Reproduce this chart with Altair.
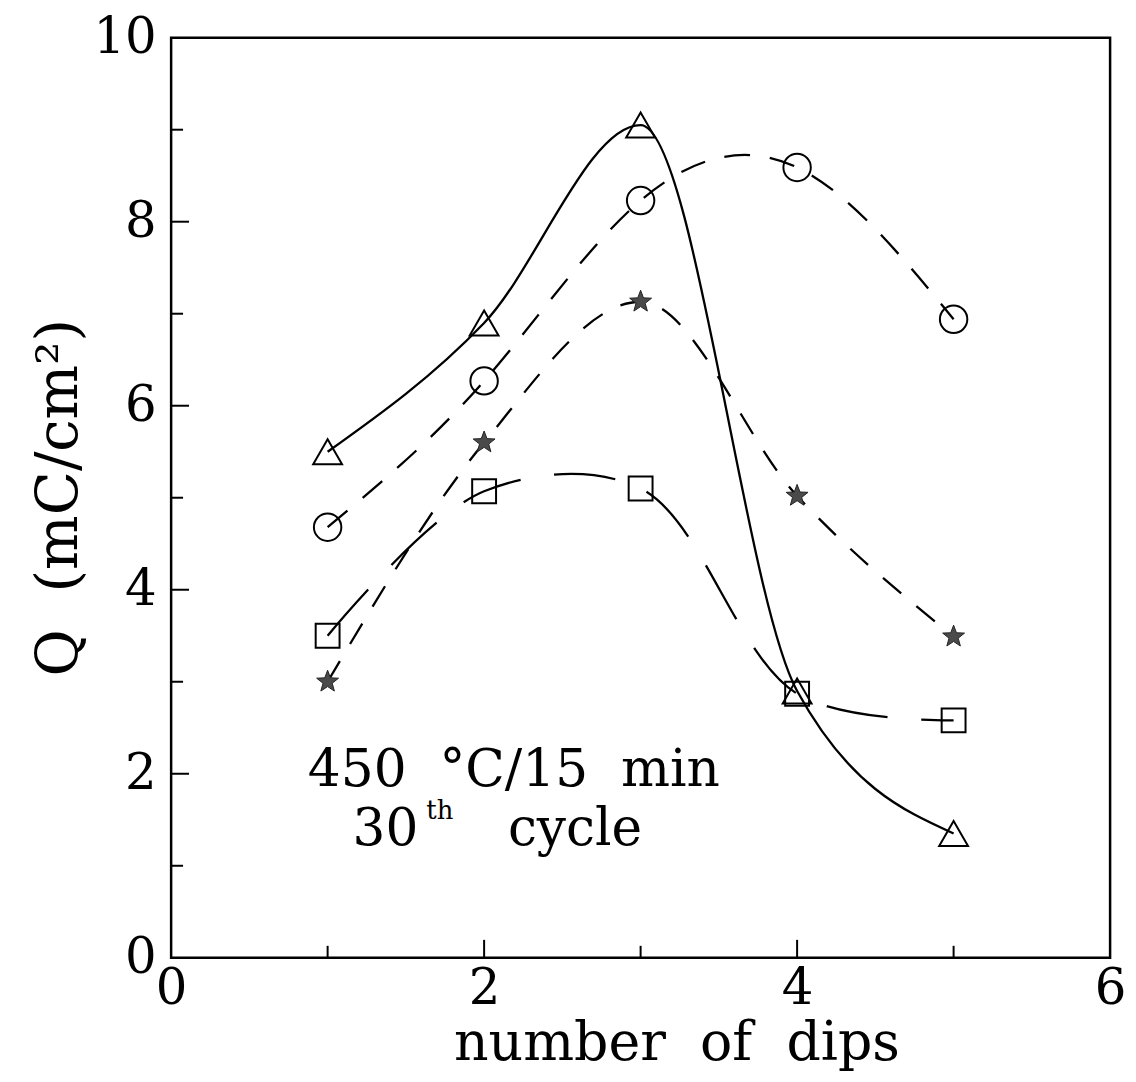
import altair as alt
import pandas as pd

# ---- data ----
x_dips = [1, 2, 3, 4, 5]
q_triangle = [5.5, 6.9, 9.05, 2.9, 1.35]
q_circle = [4.68, 6.27, 8.23, 8.59, 6.94]
q_star = [3.0, 5.6, 7.13, 5.02, 3.49]
q_square = [3.5, 5.07, 5.1, 2.87, 2.58]

x_label_values = [0, 2, 4, 6]
y_label_values = [0, 2, 4, 6, 8, 10]
x_major_ticks = [2, 4]
x_minor_ticks = [1, 3, 5]
y_major_ticks = [2, 4, 6, 8]
y_minor_ticks = [1, 3, 5, 7, 9]

note_line1 = "450\u00a0 °C/15\u00a0 min"
note_num = "30"
note_sup = "th"
note_word = "cycle"

# ---- layout / style ----
W, H = 944, 925
FONT = "DejaVu Serif"
STAR = ("M0,-1 L0.247,-0.34 L0.951,-0.309 L0.399,0.13 L0.588,0.809 "
        "L0,0.42 L-0.588,0.809 L-0.399,0.13 L-0.951,-0.309 L-0.247,-0.34 Z")

xs = alt.Scale(domain=[0, 6], nice=False, zero=False)
ys = alt.Scale(domain=[0, 10], nice=False, zero=False)

x_axis = alt.Axis(values=x_label_values, title="number\u00a0 of\u00a0 dips",
                  labelFlush=False, labelPadding=6, labelOverlap=False,
                  titleX=508, titleY=102, titleBaseline="alphabetic",
                  titleAlign="center", titleFontSize=54)
y_axis = alt.Axis(values=y_label_values, title="Q\u00a0 (mC/cm²)",
                  labelPadding=15, labelOverlap=False,
                  titleX=-95, titleY=462, titleAngle=270,
                  titleBaseline="alphabetic", titleAlign="center", titleFontSize=58)

X = alt.X("dips:Q", scale=xs, axis=x_axis)
Y = alt.Y("Q:Q", scale=ys, axis=y_axis)


def sdf(vals):
    return pd.DataFrame({"dips": x_dips, "Q": vals})


def line(vals, interp, dash=None):
    kw = dict(color="black", strokeWidth=2.3, interpolate=interp)
    if dash:
        kw["strokeDash"] = dash
    return alt.Chart(sdf(vals)).mark_line(**kw).encode(x=X, y=Y)


def pts(vals, shape, size, filled=False, fill=None, stroke="black", sw=2.0):
    kw = dict(shape=shape, size=size, filled=filled, stroke=stroke,
              strokeWidth=sw, opacity=1)
    kw["fill"] = fill if filled else "transparent"
    return alt.Chart(sdf(vals)).mark_point(**kw).encode(x=X, y=Y)


lines = [
    line(q_triangle, "monotone"),
    line(q_circle, "natural", [26, 20]),
    line(q_star, "monotone", [24, 20]),
    line(q_square, "catmull-rom", [62, 34]),
]
points = [
    pts(q_triangle, "triangle-up", 841),
    pts(q_circle, "circle", 760),
    pts(q_star, STAR, 535, filled=True, fill="#4a4a4a", stroke="#222222", sw=1.0),
    pts(q_square, "square", 576),
]

# inward axis ticks
ytick_major = alt.Chart(pd.DataFrame({"Q": y_major_ticks})).mark_rule(
    color="black", strokeWidth=2).encode(y=Y, x=alt.value(0), x2=alt.value(18))
ytick_minor = alt.Chart(pd.DataFrame({"Q": y_minor_ticks})).mark_rule(
    color="black", strokeWidth=2).encode(y=Y, x=alt.value(0), x2=alt.value(12))
xtick_major = alt.Chart(pd.DataFrame({"dips": x_major_ticks})).mark_rule(
    color="black", strokeWidth=2).encode(x=X, y=alt.value(H), y2=alt.value(H - 18))
xtick_minor = alt.Chart(pd.DataFrame({"dips": x_minor_ticks})).mark_rule(
    color="black", strokeWidth=2).encode(x=X, y=alt.value(H), y2=alt.value(H - 12))

# annotation
n1 = pd.DataFrame({"dips": [2.19], "Q": [1.87], "label": [note_line1]})
n2 = pd.DataFrame({"dips": [1.58], "Q": [1.23], "a": [note_num], "b": [note_sup], "c": [note_word]})
t1 = alt.Chart(n1).mark_text(font=FONT, fontSize=52, align="center",
                             baseline="alphabetic", color="black").encode(x=X, y=Y, text="label:N")
t2a = alt.Chart(n2).mark_text(font=FONT, fontSize=52, align="right",
                              baseline="alphabetic", color="black").encode(x=X, y=Y, text="a:N")
t2b = alt.Chart(n2).mark_text(font=FONT, fontSize=26, align="left", dx=8, dy=-26,
                              baseline="alphabetic", color="black").encode(x=X, y=Y, text="b:N")
t2c = alt.Chart(n2).mark_text(font=FONT, fontSize=52, align="left", dx=90,
                              baseline="alphabetic", color="black").encode(x=X, y=Y, text="c:N")

chart = alt.layer(
    ytick_major, ytick_minor, xtick_major, xtick_minor,
    *lines, *points, t1, t2a, t2b, t2c
).properties(
    width=W, height=H,
    padding={"left": 164, "top": 27, "right": 18, "bottom": 114},
    autosize=alt.AutoSizeParams(type="none"),
    background="white",
).configure_view(
    stroke="black", strokeWidth=2.5
).configure_axis(
    domain=False, ticks=False, grid=False,
    labelFont=FONT, labelFontSize=50, labelColor="black",
    titleFont=FONT, titleFontWeight="normal", titleColor="black",
)

chart.save("out.html", embed_options={"renderer": "svg", "actions": False})
